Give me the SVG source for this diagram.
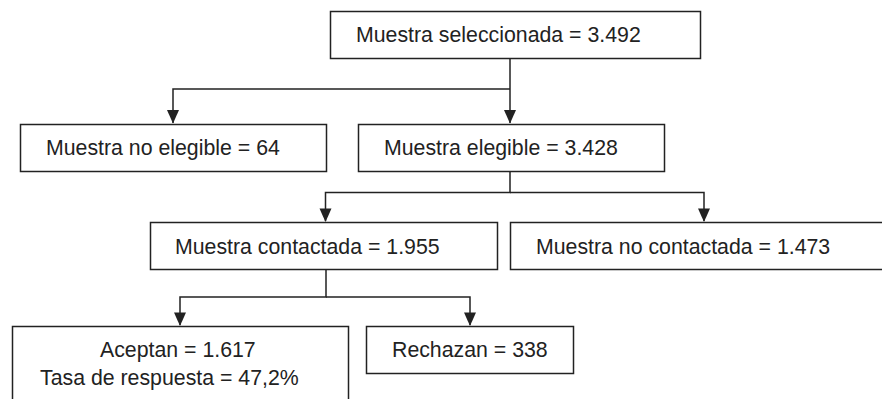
<svg xmlns="http://www.w3.org/2000/svg" width="882" height="399" viewBox="0 0 882 399">
<style>
.box{fill:#fff;stroke:#222;stroke-width:1.5}
.lbl{font-family:"Liberation Sans",Arial,sans-serif;font-size:21.3px;fill:#222}
.con{fill:none;stroke:#222;stroke-width:1.5}
</style>
<rect width="882" height="399" fill="#fff"/>
<g id="connectors">
<path class="con" d="M510,59 V123"/>
<path class="con" d="M510,89 H173 V123"/>
<path class="con" d="M510,172 V192.5 H325.5 V221"/>
<path class="con" d="M510,192.5 H704 V221"/>
<path class="con" d="M326,270 V297 H180 V325"/>
<path class="con" d="M326,297 H470 V325"/>
<path d="M504,110 L516,110 L510,123.5 Z" fill="#222"/>
<path d="M167,110 L179,110 L173,123.5 Z" fill="#222"/>
<path d="M319.5,208.5 L331.5,208.5 L325.5,222 Z" fill="#222"/>
<path d="M698,208.5 L710,208.5 L704,222 Z" fill="#222"/>
<path d="M174,312.5 L186,312.5 L180,326 Z" fill="#222"/>
<path d="M464,312.5 L476,312.5 L470,326 Z" fill="#222"/>
</g>
<g id="n-seleccionada">
<rect class="box" x="330.5" y="11.5" width="370" height="47"/>
<text class="lbl" x="356" y="41.5">Muestra seleccionada = 3.492</text>
</g>
<g id="n-no-elegible">
<rect class="box" x="20.5" y="124.5" width="306" height="47"/>
<text class="lbl" x="46" y="155">Muestra no elegible = 64</text>
</g>
<g id="n-elegible">
<rect class="box" x="358.5" y="124.5" width="306" height="47"/>
<text class="lbl" x="384" y="155">Muestra elegible = 3.428</text>
</g>
<g id="n-contactada">
<rect class="box" x="150.5" y="222.5" width="347" height="47"/>
<text class="lbl" x="175" y="254">Muestra contactada = 1.955</text>
</g>
<g id="n-no-contactada">
<rect class="box" x="510.5" y="222.5" width="380" height="47"/>
<text class="lbl" x="536" y="253.5">Muestra no contactada = 1.473</text>
</g>
<g id="n-aceptan">
<rect class="box" x="12.5" y="326.5" width="336" height="90"/>
<text class="lbl" x="100" y="356.5">Aceptan = 1.617</text>
<text class="lbl" x="40" y="384.5">Tasa de respuesta = 47,2%</text>
</g>
<g id="n-rechazan">
<rect class="box" x="366.5" y="326.5" width="207" height="47"/>
<text class="lbl" x="392" y="356.5">Rechazan = 338</text>
</g>
</svg>
